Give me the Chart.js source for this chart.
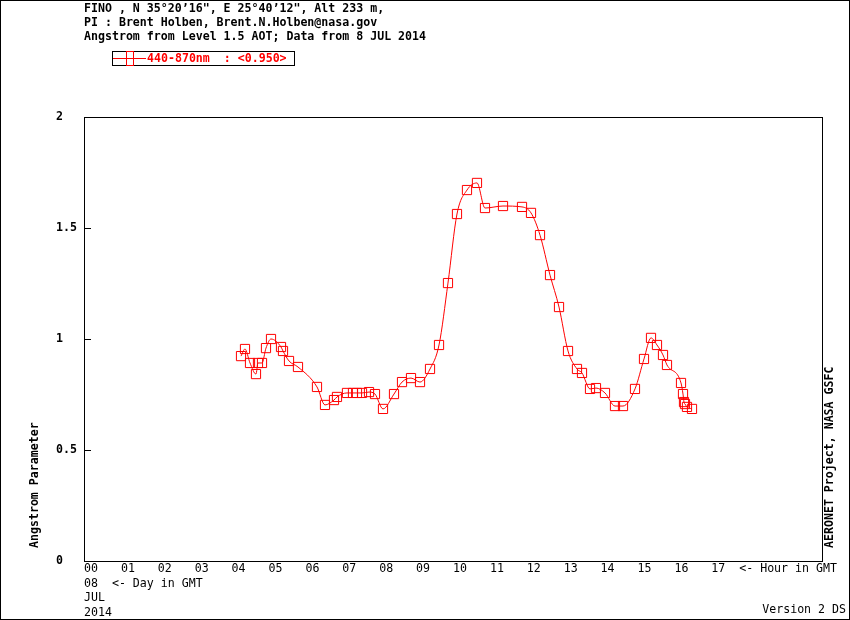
<!DOCTYPE html>
<html>
<head>
<meta charset="utf-8">
<script src="https://cdn.jsdelivr.net/npm/chart.js@4/dist/chart.umd.min.js"></script>
<style>
  html, body { margin: 0; padding: 0; background: #fff; }
  #wrap { width: 850px; height: 620px; position: relative; }
</style>
</head>
<body>
<div id="wrap"><canvas id="c" width="850" height="620"></canvas></div>
<script>
// ---- data ----
const hours = [4.255, 4.363, 4.499, 4.661, 4.715, 4.824, 4.932, 5.068, 5.339, 5.393,
  5.556, 5.799, 6.314, 6.531, 6.775, 6.856, 7.127, 7.290, 7.398, 7.534,
  7.724, 7.886, 8.103, 8.401, 8.618, 8.862, 9.106, 9.377, 9.621, 9.864,
  10.108, 10.379, 10.650, 10.867, 11.355, 11.870, 12.114, 12.358, 12.629, 12.873,
  13.117, 13.360, 13.496, 13.713, 13.875, 14.119, 14.390, 14.607, 14.932, 15.176,
  15.366, 15.528, 15.691, 15.799, 16.179, 16.233, 16.260, 16.287, 16.341, 16.477];
const angstrom = [0.923, 0.955, 0.892, 0.842, 0.892, 0.892, 0.959, 1.000, 0.964, 0.946,
  0.901, 0.874, 0.784, 0.703, 0.725, 0.739, 0.757, 0.757, 0.757, 0.757,
  0.761, 0.752, 0.685, 0.752, 0.806, 0.824, 0.806, 0.865, 0.973, 1.252,
  1.563, 1.671, 1.703, 1.590, 1.599, 1.595, 1.568, 1.468, 1.288, 1.144,
  0.946, 0.865, 0.847, 0.775, 0.779, 0.757, 0.698, 0.698, 0.775, 0.910,
  1.005, 0.973, 0.928, 0.883, 0.802, 0.752, 0.716, 0.707, 0.694, 0.685];
const hourLabels = ['00','01','02','03','04','05','06','07','08','09','10','11','12','13','14','15','16','17'];
const yTickLabels = ['0', '0.5', '1', '1.5', '2'];
const dayLines = ['08  <- Day in GMT', 'JUL', '2014'];
const headerLines = [
  "FINO , N 35\u00B020\u201916\", E 25\u00B040\u201912\", Alt 233 m,",
  "PI : Brent Holben, Brent.N.Holben@nasa.gov",
  "Angstrom from Level 1.5 AOT; Data from 8 JUL 2014"
];
const seriesLabel = '440-870nm  : <0.950>';
const yTitle = 'Angstrom Parameter';
const rightNote = 'AERONET Project, NASA GSFC';
const versionNote = 'Version 2 DS';

const MONO = "'DejaVu Sans Mono', 'Liberation Mono', monospace";
const RED = '#ff0000';

const decor = {
  id: 'decor',
  afterDraw(chart) {
    const ctx = chart.ctx;
    const a = chart.chartArea;
    const ys = chart.scales.y;
    ctx.save();
    ctx.strokeStyle = '#000';
    ctx.lineWidth = 1;
    ctx.strokeRect(0.5, 0.5, 849, 619);
    ctx.strokeRect(Math.round(a.left) + 0.5, Math.round(a.top) + 0.5,
      Math.round(a.right - a.left), Math.round(a.bottom - a.top));
    ctx.beginPath();
    ys.ticks.forEach(t => {
      const py = Math.round(ys.getPixelForValue(t.value)) + 0.5;
      ctx.moveTo(a.left, py);
      ctx.lineTo(a.left + 7, py);
    });
    ctx.stroke();
    ctx.fillStyle = '#000';
    ctx.font = 'bold 11.6px ' + MONO;
    ctx.textBaseline = 'middle';
    ctx.textAlign = 'left';
    headerLines.forEach((t, i) => ctx.fillText(t, 84, 9 + i * 14));
    ctx.strokeRect(112.5, 51.5, 182, 14);
    ctx.strokeStyle = RED;
    ctx.beginPath();
    ctx.moveTo(113, 58.5);
    ctx.lineTo(146, 58.5);
    ctx.stroke();
    ctx.strokeRect(126.5, 51.5, 7, 14);
    ctx.fillStyle = RED;
    ctx.fillText(seriesLabel, 147, 59);
    ctx.fillStyle = '#000';
    ctx.save();
    ctx.translate(35, 548);
    ctx.rotate(-Math.PI / 2);
    ctx.textAlign = 'left';
    ctx.fillText(yTitle, 0, 0);
    ctx.restore();
    ctx.save();
    ctx.translate(830, 548);
    ctx.rotate(-Math.PI / 2);
    ctx.textAlign = 'left';
    ctx.fillText(rightNote, 0, 0);
    ctx.restore();
    ctx.textAlign = 'right';
    ctx.font = '11.6px ' + MONO;
    ctx.fillText(versionNote, 846, 610);
    ctx.restore();
  }
};

const points = hours.map((h, i) => ({ x: h, y: angstrom[i] }));

new Chart(document.getElementById('c'), {
  type: 'line',
  data: {
    datasets: [{
      label: seriesLabel,
      data: points,
      borderColor: RED,
      borderWidth: 1,
      backgroundColor: 'rgba(0,0,0,0)',
      pointStyle: 'rect',
      pointRadius: 6.5,
      pointBorderWidth: 1,
      pointBorderColor: RED,
      pointBackgroundColor: 'rgba(0,0,0,0)',
      cubicInterpolationMode: 'monotone',
      fill: false
    }]
  },
  options: {
    responsive: false,
    animation: false,
    devicePixelRatio: 1,
    layout: { padding: { left: 56, top: 117, right: 28, bottom: 0 } },
    plugins: { legend: { display: false }, title: { display: false }, tooltip: { enabled: false } },
    scales: {
      x: {
        type: 'linear',
        min: 0, max: 20,
        grid: { display: false, drawTicks: false },
        border: { display: false },
        afterFit(s) { s.height = 59; },
        afterBuildTicks(s) {
          s.ticks = [];
          for (let i = 0; i <= 20; i++) s.ticks.push({ value: i });
        },
        ticks: {
          autoSkip: false,
          maxRotation: 0,
          minRotation: 0,
          align: 'start',
          padding: 1,
          color: '#000',
          font: { family: MONO, size: 11.6, lineHeight: 1.25 },
          callback(v) {
            if (v === 0) return [hourLabels[0]].concat(dayLines);
            if (v === 17) return hourLabels[17] + '  <- Hour in GMT';
            if (v < 17) return hourLabels[v];
            return '';
          }
        }
      },
      y: {
        min: 0, max: 2,
        grid: { display: false, drawTicks: false },
        border: { display: false },
        afterFit(s) { s.width = 28; },
        ticks: {
          stepSize: 0.5,
          crossAlign: 'far',
          padding: 0,
          color: '#000',
          font: { family: MONO, size: 11.6, weight: 'bold' },
          callback(v) {
            const i = Math.round(v / 0.5);
            return yTickLabels[i] !== undefined ? yTickLabels[i] : '';
          }
        }
      }
    }
  },
  plugins: [decor]
});
</script>
</body>
</html>
